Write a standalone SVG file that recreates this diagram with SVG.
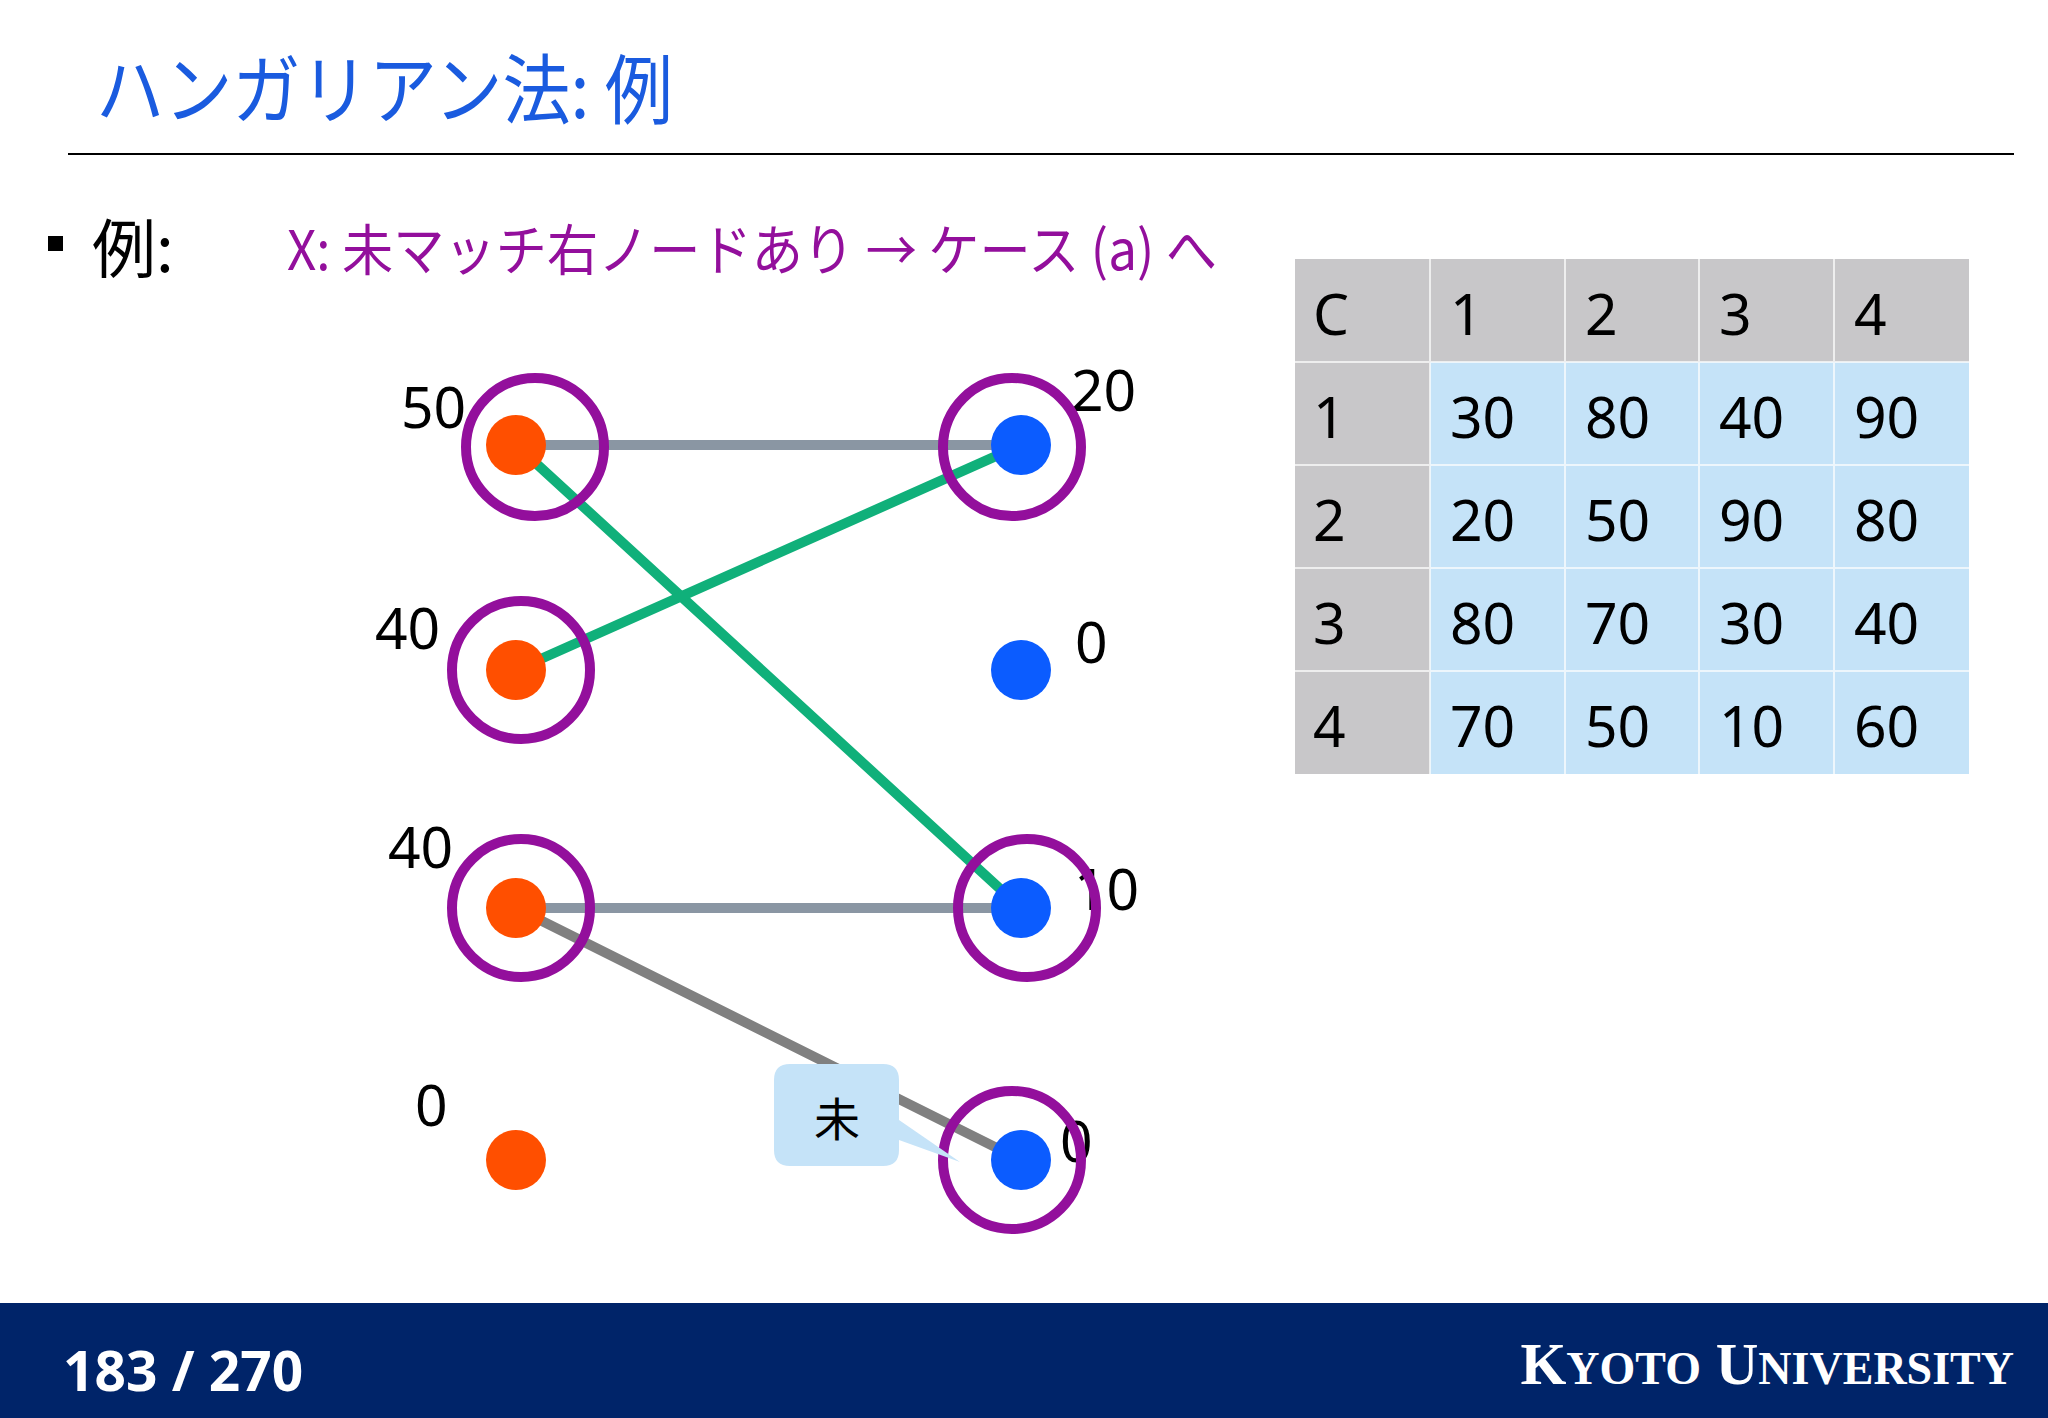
<svg xmlns="http://www.w3.org/2000/svg" width="2048" height="1418" viewBox="0 0 2048 1418">
<style>
.t{font-family:"Liberation Sans","Noto Sans CJK JP",sans-serif;}
.n{font-family:"Noto Sans","Noto Sans CJK JP",sans-serif;font-size:57px;fill:#000;}
.ring{fill:none;stroke:#930f9c;stroke-width:10;}
.L{fill:#ff4f00;}
.R{fill:#0b5cff;}
.hd{fill:#c8c7c9;}
.cl{fill:#c5e3f8;}
</style>
<rect width="2048" height="1418" fill="#fff"/>
<text x="96" y="118" font-size="76" fill="#1a5bdf" font-family="Noto Sans CJK JP,sans-serif" textLength="577" lengthAdjust="spacingAndGlyphs">ハンガリアン法: 例</text>
<line x1="68" y1="154" x2="2014" y2="154" stroke="#000" stroke-width="2"/>
<rect x="48" y="236" width="15" height="15" fill="#000"/>
<text x="92" y="272" font-size="64" font-family="Noto Sans CJK JP,sans-serif">例:</text>
<text x="287" y="270" font-size="55" fill="#930f9c" font-family="Noto Sans CJK JP,sans-serif" textLength="930" lengthAdjust="spacingAndGlyphs">X: 未マッチ右ノードあり → ケース (a) へ</text>
<g id="table" class="n">
<rect x="1295" y="259" width="674" height="103" class="hd"/>
<rect x="1295" y="259" width="135" height="515" class="hd"/>
<rect x="1430" y="362" width="539" height="412" class="cl"/>
<g stroke="#fff" stroke-width="2" opacity="0.7">
<line x1="1430" y1="259" x2="1430" y2="774"/><line x1="1565" y1="259" x2="1565" y2="774"/><line x1="1699" y1="259" x2="1699" y2="774"/><line x1="1834" y1="259" x2="1834" y2="774"/>
<line x1="1295" y1="362" x2="1969" y2="362"/><line x1="1295" y1="465" x2="1969" y2="465"/><line x1="1295" y1="568" x2="1969" y2="568"/><line x1="1295" y1="671" x2="1969" y2="671"/>
</g>
<text x="1313" y="335">C</text><text x="1450" y="335">1</text><text x="1585" y="335">2</text><text x="1719" y="335">3</text><text x="1854" y="335">4</text>
<text x="1313" y="438">1</text><text x="1450" y="438">30</text><text x="1585" y="438">80</text><text x="1719" y="438">40</text><text x="1854" y="438">90</text>
<text x="1313" y="541">2</text><text x="1450" y="541">20</text><text x="1585" y="541">50</text><text x="1719" y="541">90</text><text x="1854" y="541">80</text>
<text x="1313" y="644">3</text><text x="1450" y="644">80</text><text x="1585" y="644">70</text><text x="1719" y="644">30</text><text x="1854" y="644">40</text>
<text x="1313" y="747">4</text><text x="1450" y="747">70</text><text x="1585" y="747">50</text><text x="1719" y="747">10</text><text x="1854" y="747">60</text>
</g>
<g id="edges" stroke-width="10" stroke-linecap="round">
<line x1="516" y1="445" x2="1021" y2="445" stroke="#8a96a3"/>
<line x1="516" y1="908" x2="1021" y2="908" stroke="#8a96a3"/>
<line x1="516" y1="908" x2="1021" y2="1160" stroke="#808080"/>
<line x1="516" y1="445" x2="1021" y2="908" stroke="#10b07a"/>
<line x1="516" y1="670" x2="1021" y2="445" stroke="#10b07a"/>
</g>
<g class="n">
<text x="401" y="428">50</text><text x="375" y="649">40</text><text x="388" y="868">40</text><text x="415" y="1126">0</text>
<text x="1071" y="411">20</text><text x="1075" y="663">0</text><text x="1074" y="910">10</text><text x="1060" y="1162">0</text>
</g>
<g id="L1"><circle cx="516" cy="445" r="30" class="L"/><circle cx="535" cy="447" r="69" class="ring"/></g>
<g id="L2"><circle cx="516" cy="670" r="30" class="L"/><circle cx="521" cy="670" r="69" class="ring"/></g>
<g id="L3"><circle cx="516" cy="908" r="30" class="L"/><circle cx="521" cy="908" r="69" class="ring"/></g>
<g id="L4"><circle cx="516" cy="1160" r="30" class="L"/></g>
<g id="R1"><circle cx="1021" cy="445" r="30" class="R"/><circle cx="1012" cy="447" r="69" class="ring"/></g>
<g id="R2"><circle cx="1021" cy="670" r="30" class="R"/></g>
<g id="R3"><circle cx="1021" cy="908" r="30" class="R"/><circle cx="1027" cy="908" r="69" class="ring"/></g>
<g id="R4"><circle cx="1021" cy="1160" r="30" class="R"/><circle cx="1012" cy="1160" r="69" class="ring"/></g>
<g id="callout">
<path d="M790 1064 H883 Q899 1064 899 1080 V1120 L960 1162 L899 1140 V1150 Q899 1166 883 1166 H790 Q774 1166 774 1150 V1080 Q774 1064 790 1064 Z" fill="#c5e3f8"/>
<text x="837" y="1136" text-anchor="middle" font-size="46" font-family="Noto Sans CJK JP,sans-serif">未</text>
</g>
<rect x="0" y="1303" width="2048" height="115" fill="#002469"/>
<text x="63" y="1391" font-size="55" font-weight="bold" fill="#fff" font-family="Noto Sans,sans-serif">183 / 270</text>
<text x="2014" y="1384" text-anchor="end" fill="#fff" font-family="Liberation Serif,serif" font-weight="bold" font-size="59">K<tspan font-size="46">YOTO</tspan> U<tspan font-size="46">NIVERSITY</tspan></text>
</svg>
